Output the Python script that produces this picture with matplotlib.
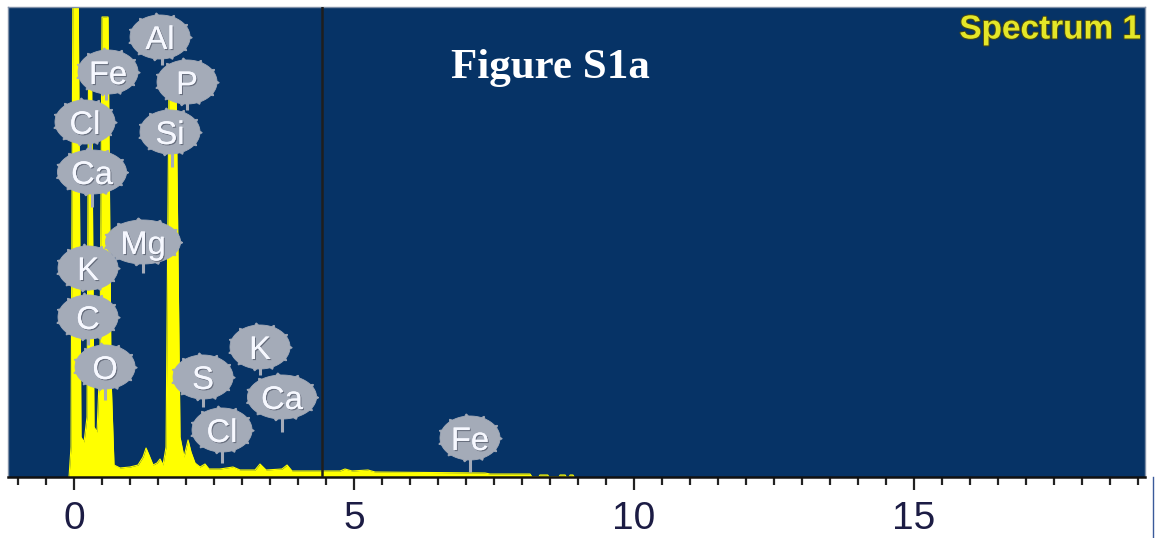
import numpy as np
import matplotlib
matplotlib.use("Agg")
import matplotlib.pyplot as plt
from matplotlib.patches import Polygon
from matplotlib.transforms import ScaledTranslation
import matplotlib.patheffects as pe

# ---- data (energy in keV, counts in arbitrary units) ----
energy = [-0.089, -0.054, -0.018, 0.071, 0.125, 0.179, 0.232, 0.259, 0.313, 0.357,
          0.411, 0.464, 0.500, 0.607, 0.661, 0.714, 0.821, 1.000, 1.143, 1.232,
          1.286, 1.339, 1.411, 1.482, 1.536, 1.589, 1.643, 1.696, 1.821, 1.893,
          1.964, 2.036, 2.089, 2.161, 2.250, 2.339, 2.411, 2.607, 2.839, 2.964,
          3.232, 3.321, 3.429, 3.714, 3.804, 3.893, 4.393, 4.750, 4.839, 4.964,
          5.250, 5.375, 7.339, 7.429, 8.143, 8.179, 8.30, 8.32, 8.46, 8.48,
          8.66, 8.68, 8.77, 8.79, 8.84, 8.86, 8.91, 8.93]
counts = [0, 30, 520, 520, 40, 35, 60, 410, 410, 50,
          45, 120, 460, 460, 100, 12, 9, 10, 12, 20,
          29, 22, 12, 14, 18, 12, 30, 400, 400, 40,
          20, 37, 25, 14, 10, 13, 8, 8, 10, 7,
          7, 13, 7, 8, 12, 6, 6, 6, 8, 6,
          7, 5, 4, 3, 3, 0, 0, 2, 2, 0,
          0, 2, 2, 0, 0, 2, 2, 0]

# element markers: label, bubble centre energy, stem energy, bubble centre counts, stem end counts
labels = ["Al", "Fe", "P", "Cl", "Si", "Ca", "Mg", "K", "C", "O", "S", "K", "Ca", "Cl", "Fe"]
label_cx = [1.536, 0.607, 2.018, 0.196, 1.714, 0.321, 1.232, 0.250, 0.250, 0.554, 2.304, 3.321, 3.714, 2.643, 7.071]
label_sx = [1.571, 0.571, 2.018, 0.286, 1.750, 0.321, 1.232, 0.250, 0.250, 0.554, 2.304, 3.321, 3.714, 2.643, 7.071]
label_cy = [440, 405, 395, 355, 345, 305, 235, 209, 160, 110, 100, 130, 80, 47, 39]
label_sy = [412, 377, 367, 327, 310, 270, 204, 187, 132, 77, 70, 102, 45, 14, 5]

xticks = [0, 5, 10, 15]

BG = "#063366"
YEL = "#ffff00"
GRAY = "#a4abb8"

fig = plt.figure(figsize=(11.58, 5.38), dpi=100)
fig.patch.set_facecolor("white")
ax = fig.add_axes([8 / 1158, 61 / 538, 1137 / 1158, 470 / 538])
ax.set_facecolor(BG)
ax.set_xlim(-1.179, 19.125)
ax.set_ylim(0, 470)

ax.fill_between(energy, 0, counts, color=YEL, lw=0, zorder=2)
ax.plot(energy, counts, color=YEL, lw=0.8, zorder=2)

ax.axvline(4.43, color="#1e1e1e", lw=1.8, zorder=3)

# bubbles (gear-like outline)
theta = np.linspace(0, 2 * np.pi, 361)
knob = np.clip(np.cos(11 * theta + 0.3), 0, 1) ** 10
for lab, cx, sx, cy, sy in zip(labels, label_cx, label_sx, label_cy, label_sy):
    w = {"Ca": 72, "Mg": 78}.get(lab, 63)
    h = 47
    a, b = w / 2 - 1.5, h / 2 - 1.5
    xs = (a * np.cos(theta) + 2.2 * knob * np.cos(theta)) / 100
    ys = (b * np.sin(theta) + 2.2 * knob * np.sin(theta)) / 100
    tr = fig.dpi_scale_trans + ScaledTranslation(cx, cy, ax.transData)
    poly = Polygon(np.column_stack([xs, ys]), closed=True, facecolor=GRAY,
                   edgecolor=GRAY, lw=0.6, transform=tr, zorder=5)
    ax.add_patch(poly)
    ax.plot([sx, sx], [cy, sy], color=GRAY, lw=2.2, zorder=4, solid_capstyle="butt")
    ax.text(cx, cy, lab, ha="center", va="center_baseline", fontsize=23.5,
            family="Liberation Sans", color="#f6f8ff", zorder=6,
            path_effects=[pe.withSimplePatchShadow(offset=(0.8, -0.8), shadow_rgbFace="#5a6070", alpha=0.8),
                          pe.Normal()])

# texts
ax.text(1141 / 1158, 1 - 30 / 538, "Spectrum 1", transform=fig.transFigure,
        ha="right", va="center", fontsize=24, family="Liberation Sans",
        fontweight="bold", color="#e4e628", zorder=7,
        path_effects=[pe.withStroke(linewidth=1.4, foreground="#4a4a10")])
ax.text(550 / 1158, 1 - 78 / 538, "Figure S1a", transform=fig.transFigure,
        ha="center", va="baseline", fontsize=31, family="Liberation Serif",
        fontweight="bold", color="white", zorder=7)

# axes styling
ax.set_xticks(xticks)
ax.set_xticks(np.arange(-1.0, 19.1, 0.5), minor=True)
ax.set_xticklabels([str(t) for t in xticks], fontsize=28, family="Liberation Sans",
                   color="#1c1c44")
ax.tick_params(axis="x", which="major", direction="out", length=9, width=1.6,
               color="#222222", pad=8)
ax.tick_params(axis="x", which="minor", direction="out", length=6, width=1.6,
               color="#222222")
ax.set_yticks([])
for s in ["top", "left", "right"]:
    ax.spines[s].set_color("#8090a8")
    ax.spines[s].set_linewidth(1.0)
ax.spines["bottom"].set_color("#111111")
ax.spines["bottom"].set_linewidth(1.8)

fig.add_artist(plt.Line2D([1153 / 1158, 1153 / 1158], [0, 61 / 538],
                          transform=fig.transFigure, color="#3a5a9a", lw=1))

fig.savefig("out.png", dpi=100, facecolor="white")
